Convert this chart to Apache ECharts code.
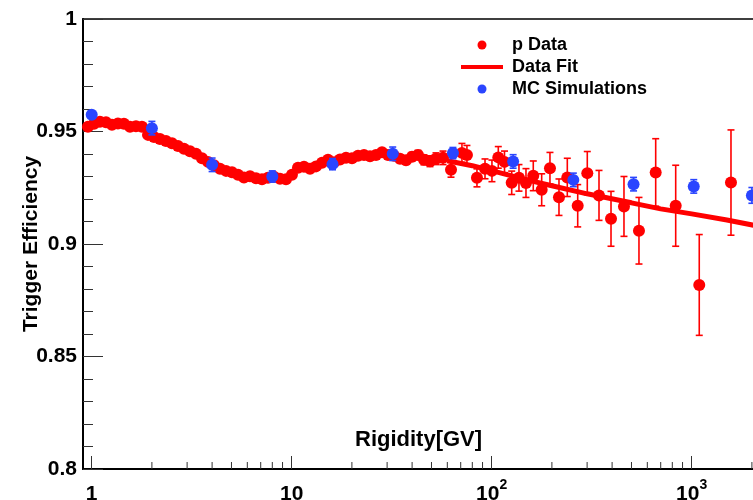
<!DOCTYPE html>
<html>
<head>
<meta charset="utf-8">
<script src="https://cdn.jsdelivr.net/npm/echarts@6/dist/echarts.min.js"></script>
<style>
  html, body { margin: 0; padding: 0; background: #fff; }
  #chart { width: 753px; height: 500px; }
</style>
</head>
<body>
<div id="chart"></div>
<script>
// p data (rigidity in GV, efficiency, error)
const pRigidity = [0.958, 1.027, 1.100, 1.179, 1.263, 1.353, 1.450, 1.554, 1.665, 1.784, 1.912, 2.049, 2.195, 2.352, 2.520, 2.701, 2.894, 3.101, 3.323, 3.560,
  3.815, 4.088, 4.380, 4.694, 5.029, 5.389, 5.774, 6.187, 6.630, 7.104, 7.612, 8.156, 8.740, 9.365, 10.03, 10.75, 11.52, 12.35, 13.23, 14.18,
  15.19, 16.28, 17.44, 18.69, 20.03, 21.46, 22.99, 24.64, 26.40, 28.29, 30.31, 32.48, 34.80, 37.29, 39.96, 42.81, 45.87, 49.15, 52.67,
  57.1, 62.6, 71.0, 75.2, 84.4, 92.6, 100.3, 107.9, 115.9, 125.9, 136.9, 148.4, 161.4, 177.8, 195.6, 217, 238.8, 269.2, 300.6, 344, 395,
  458.6, 545, 660.7, 831.8, 1091, 1572]
const pEff = [0.9521, 0.9534, 0.9543, 0.9541, 0.9530, 0.9536, 0.9534, 0.9521, 0.9523, 0.9521, 0.9485, 0.9476, 0.9467, 0.9458, 0.9448, 0.9436, 0.9423, 0.9412, 0.9401, 0.9381,
  0.9365, 0.9350, 0.9334, 0.9325, 0.9319, 0.9308, 0.9296, 0.9301, 0.9292, 0.9288, 0.9294, 0.9299, 0.9290, 0.9288, 0.9308, 0.9339, 0.9343, 0.9334, 0.9345, 0.9361,
  0.9374, 0.9363, 0.9376, 0.9383, 0.9381, 0.9392, 0.9396, 0.9390, 0.9396, 0.9408, 0.9396, 0.9392, 0.9379, 0.9372, 0.9388, 0.9396, 0.9374, 0.9368, 0.9379,
  0.9383, 0.9330, 0.9405, 0.9396, 0.9294, 0.9334, 0.9325, 0.9385, 0.9365, 0.9272, 0.9294, 0.9271, 0.9303, 0.9241, 0.9337, 0.9208, 0.9296, 0.9170, 0.9315, 0.9216, 0.9112,
  0.9167, 0.9059, 0.9318, 0.9170, 0.8818, 0.9273]
const pErr = [0.0010, 0.0010, 0.0010, 0.0010, 0.0010, 0.0010, 0.0010, 0.0010, 0.0010, 0.0010, 0.0010, 0.0010, 0.0010, 0.0010, 0.0010, 0.0010, 0.0010, 0.0010, 0.0010, 0.0010,
  0.0010, 0.0010, 0.0010, 0.0010, 0.0010, 0.0010, 0.0010, 0.0010, 0.0010, 0.0010, 0.0010, 0.0010, 0.0010, 0.0010, 0.0010, 0.0010, 0.0010, 0.0012, 0.0012, 0.0012,
  0.0012, 0.0012, 0.0012, 0.0012, 0.0014, 0.0014, 0.0014, 0.0014, 0.0015, 0.0015, 0.0016, 0.0016, 0.0017, 0.0018, 0.0019, 0.0020, 0.0022, 0.0024, 0.0026,
  0.0030, 0.0033, 0.0042, 0.0042, 0.0040, 0.0044, 0.0048, 0.0048, 0.0048, 0.0052, 0.0059, 0.0064, 0.0066, 0.0071, 0.0070, 0.0081, 0.0085, 0.0094, 0.0096, 0.0111, 0.0122,
  0.0133, 0.0148, 0.0150, 0.0180, 0.0224, 0.0234]

// MC simulations
const mcRigidity = [1, 2, 4, 8, 16, 32, 64, 128, 256, 512, 1024, 2000]
const mcEff = [0.9574, 0.9515, 0.9352, 0.9300, 0.9355, 0.9401, 0.9404, 0.9367, 0.9285, 0.9266, 0.9256, 0.9216]
const mcErr = [0.0010, 0.0030, 0.0030, 0.0025, 0.0025, 0.0030, 0.0025, 0.0030, 0.0030, 0.0030, 0.0030, 0.0035]

// data fit curve
const fitRigidity = [60, 80, 100, 150, 200, 300, 500, 700, 1000, 1500, 2100]
const fitEff = [0.9370, 0.9348, 0.9326, 0.9285, 0.9259, 0.9223, 0.9183, 0.9156, 0.9134, 0.9107, 0.9081]

// log axis minor ticks and decade labels
const minorTicks = [2, 3, 4, 5, 6, 7, 8, 9, 20, 30, 40, 50, 60, 70, 80, 90, 200, 300, 400, 500, 600, 700, 800, 900, 2000]
const decadeLabels = { 0: '{b|1}', 1: '{b|10}', 2: '{b|10}{s|2}', 3: '{b|10}{s|3}' }

const FONT = 'Liberation Sans'
const RED = '#ff0000'
const BLUE = '#2a45ff'

const chart = echarts.init(document.getElementById('chart'))

function errorBars(xs, ys, es) {
  return xs.map((x, i) => [x, ys[i], es[i]])
}

function renderError(color) {
  return (params, api) => {
    const x = api.value(0), y = api.value(1), e = api.value(2)
    const top = api.coord([x, y + e]), bot = api.coord([x, y - e])
    const w = 3.5
    const style = { stroke: color, lineWidth: 1.6 }
    return {
      type: 'group',
      children: [
        { type: 'line', shape: { x1: top[0], y1: top[1], x2: bot[0], y2: bot[1] }, style },
        { type: 'line', shape: { x1: top[0] - w, y1: top[1], x2: top[0] + w, y2: top[1] }, style },
        { type: 'line', shape: { x1: bot[0] - w, y1: bot[1], x2: bot[0] + w, y2: bot[1] }, style },
      ]
    }
  }
}

const option = {
  animation: false,
  textStyle: { fontFamily: FONT, fontWeight: 'bold', color: '#000' },
  grid: {
    left: 83,
    top: 19,
    width: 690,
    height: 450,
    show: true,
    borderColor: '#000',
    borderWidth: 1.5,
    containLabel: false,
    outerBoundsMode: 'none',
  },
  title: {
    text: 'Rigidity[GV]',
    left: 355,
    top: 429,
    padding: 0,
    textStyle: { fontFamily: FONT, fontSize: 22, fontWeight: 'bold', color: '#000' }
  },
  legend: {
    orient: 'vertical',
    left: 461,
    top: 35,
    padding: 0,
    itemGap: 2,
    itemWidth: 42,
    itemHeight: 9,
    textStyle: { fontFamily: FONT, fontSize: 18, fontWeight: 'bold', color: '#000', lineHeight: 20, padding: [0, 0, 0, 4] },
    data: [
      { name: 'p Data', icon: 'circle' },
      { name: 'Data Fit', icon: 'path://M0,0H42V4H0Z' },
      { name: 'MC Simulations', icon: 'circle' },
    ]
  },
  xAxis: {
    type: 'log',
    logBase: 10,
    min: 0.9048,
    max: 2550,
    axisLine: { lineStyle: { color: '#000', width: 2 } },
    axisTick: { inside: true, length: 13, lineStyle: { color: '#333', width: 1 } },
    splitLine: { show: false },
    axisLabel: {
      showMinLabel: false,
      showMaxLabel: false,
      margin: 9,
      color: '#000',
      formatter(v) {
        const l = Math.log10(v), r = Math.round(l)
        return Math.abs(l - r) < 1e-6 ? (decadeLabels[r] || '') : ''
      },
      rich: {
        b: { fontFamily: FONT, fontSize: 21, fontWeight: 'bold', color: '#000', lineHeight: 27, verticalAlign: 'bottom' },
        s: { fontFamily: FONT, fontSize: 14, fontWeight: 'bold', color: '#000', lineHeight: 14, verticalAlign: 'top' }
      }
    }
  },
  yAxis: {
    type: 'value',
    min: 0.8,
    max: 1,
    interval: 0.05,
    name: 'Trigger Efficiency',
    nameLocation: 'middle',
    nameGap: 41,
    nameMoveOverlap: false,
    nameTextStyle: { fontFamily: FONT, fontSize: 21, fontWeight: 'bold', color: '#000' },
    axisLine: { show: true, lineStyle: { color: '#000', width: 2 } },
    axisTick: { inside: true, length: 20, lineStyle: { color: '#333', width: 1 } },
    minorTick: { show: true, splitNumber: 5, length: 10, lineStyle: { color: '#333', width: 1 } },
    splitLine: { show: false },
    axisLabel: {
      margin: 6,
      fontFamily: FONT,
      fontSize: 21,
      fontWeight: 'bold',
      color: '#000',
      formatter: v => String(+v.toFixed(2))
    }
  },
  series: [
    {
      name: 'Data Fit',
      type: 'line',
      data: fitRigidity.map((x, i) => [x, fitEff[i]]),
      showSymbol: false,
      symbol: 'none',
      lineStyle: { color: RED, width: 5 },
      itemStyle: { color: RED },
      z: 2
    },
    {
      name: 'p err',
      type: 'custom',
      data: errorBars(pRigidity, pEff, pErr),
      renderItem: renderError(RED),
      z: 3
    },
    {
      name: 'p Data',
      type: 'scatter',
      data: pRigidity.map((x, i) => [x, pEff[i]]),
      symbolSize: 12,
      itemStyle: { color: RED, opacity: 1 },
      z: 4
    },
    {
      name: 'mc err',
      type: 'custom',
      data: errorBars(mcRigidity, mcEff, mcErr),
      renderItem: renderError(BLUE),
      z: 5
    },
    {
      name: 'MC Simulations',
      type: 'scatter',
      data: mcRigidity.map((x, i) => [x, mcEff[i]]),
      symbolSize: 12,
      itemStyle: { color: BLUE, opacity: 1 },
      z: 6
    },
    {
      name: 'minor ticks',
      type: 'custom',
      data: minorTicks.map(x => [x, 0.8]),
      renderItem(params, api) {
        const p = api.coord([api.value(0), api.value(1)])
        return {
          type: 'line',
          shape: { x1: p[0], y1: p[1], x2: p[0], y2: p[1] - 7 },
          style: { stroke: '#333', lineWidth: 1 }
        }
      },
      silent: true,
      z: 7
    }
  ]
}

chart.setOption(option)
</script>
</body>
</html>
